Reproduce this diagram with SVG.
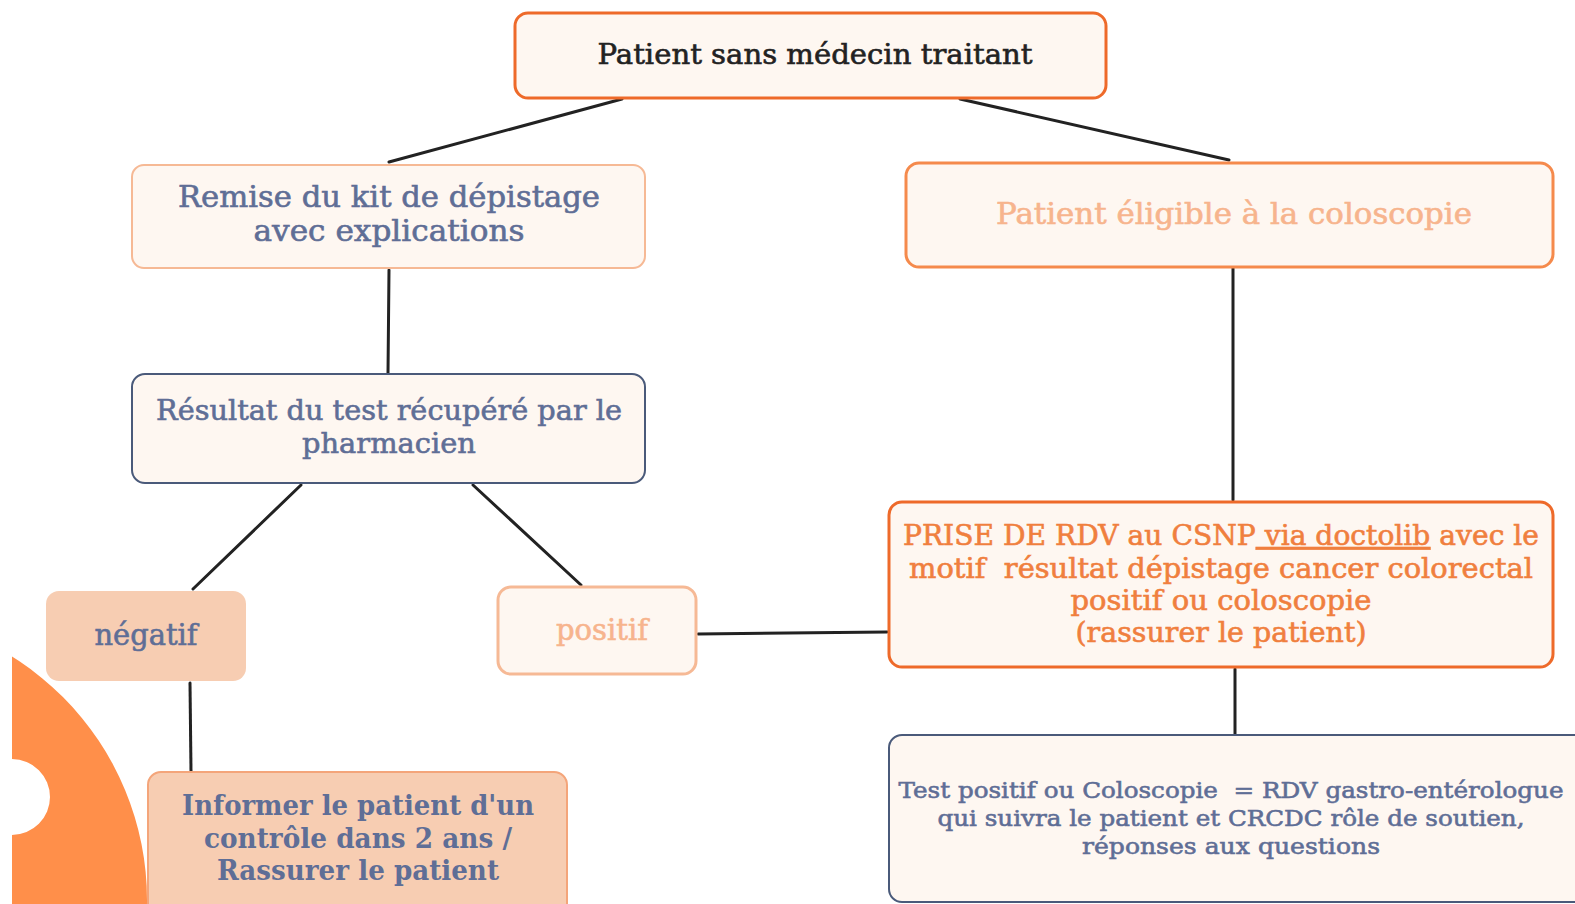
<svg xmlns="http://www.w3.org/2000/svg" width="1575" height="904" viewBox="0 0 1575 904">
<style>
.box{fill:#FEF7F1}
.t{font-family:"DejaVu Serif","Liberation Serif",serif;text-anchor:middle}
.med{stroke-width:0.6;paint-order:stroke}
.slate{fill:#5F6E96;stroke:#5F6E96}
.conn line{stroke:#222;stroke-width:3;stroke-linecap:round}
</style>
<defs>
<clipPath id="pg"><rect x="12" y="0" width="1563" height="904"/></clipPath>
</defs>
<rect width="1575" height="904" fill="#fff"/>
<g id="deco" clip-path="url(#pg)">
<path d="M-427,900 a287,287 0 1,0 574,0 a287,287 0 1,0 -574,0 Z M-26,797 a38,38 0 1,1 76,0 a38,38 0 1,1 -76,0 Z" fill="#FF8F4A" fill-rule="evenodd"/>
</g>
<g id="connectors" class="conn">
<line x1="622" y1="99" x2="389" y2="162"/>
<line x1="960" y1="99" x2="1229" y2="160"/>
<line x1="389" y1="270" x2="388" y2="373"/>
<line x1="1233" y1="268" x2="1233" y2="500"/>
<line x1="301" y1="485" x2="193" y2="589"/>
<line x1="473" y1="485" x2="581" y2="585"/>
<line x1="190" y1="683" x2="191" y2="771"/>
<line x1="698" y1="634" x2="887" y2="632"/>
<line x1="1235" y1="669" x2="1235" y2="734"/>
</g>
<g id="n-top">
<rect class="box" x="515" y="13" width="591" height="85" rx="13" stroke="#EE6A2A" stroke-width="3"/>
<text class="t med" x="815" y="64" font-size="28" fill="#222" stroke="#222" textLength="435" lengthAdjust="spacingAndGlyphs">Patient sans médecin traitant</text>
</g>
<g id="n-kit">
<rect class="box" x="132" y="165" width="513" height="103" rx="12" stroke="#F6B995" stroke-width="2"/>
<text class="t slate med" font-size="29"><tspan x="389" y="207" textLength="422" lengthAdjust="spacingAndGlyphs">Remise du kit de dépistage</tspan><tspan x="389" y="241" textLength="271" lengthAdjust="spacingAndGlyphs">avec explications</tspan></text>
</g>
<g id="n-eligible">
<rect class="box" x="906" y="163" width="647" height="104" rx="13" stroke="#F58A4C" stroke-width="3"/>
<text class="t med" x="1234" y="224" font-size="29" fill="#F7B48D" stroke="#F7B48D" textLength="476" lengthAdjust="spacingAndGlyphs">Patient éligible à la coloscopie</text>
</g>
<g id="n-resultat">
<rect class="box" x="132" y="374" width="513" height="109" rx="13" stroke="#4A5A7A" stroke-width="2"/>
<text class="t slate med" font-size="28"><tspan x="389" y="420" textLength="466" lengthAdjust="spacingAndGlyphs">Résultat du test récupéré par le</tspan><tspan x="389" y="453" textLength="174" lengthAdjust="spacingAndGlyphs">pharmacien</tspan></text>
</g>
<g id="n-negatif">
<rect x="46" y="591" width="200" height="90" rx="13" fill="#F7CDB2"/>
<text class="t slate med" x="146" y="645" font-size="29" stroke-width="0.9" textLength="103" lengthAdjust="spacingAndGlyphs">négatif</text>
</g>
<g id="n-positif">
<rect class="box" x="498" y="587" width="198" height="87" rx="13" stroke="#F6B995" stroke-width="3"/>
<text class="t med" x="602" y="640" font-size="29" fill="#F7B48D" stroke="#F7B48D" textLength="92" lengthAdjust="spacingAndGlyphs">positif</text>
</g>
<g id="n-rdv">
<rect class="box" x="889" y="502" width="664" height="165" rx="13" stroke="#EE6A2A" stroke-width="3"/>
<text class="t med" font-size="27" fill="#F07F3E" stroke="#F07F3E"><tspan x="1221" y="545" textLength="636" lengthAdjust="spacingAndGlyphs">PRISE DE RDV au CSNP<tspan text-decoration="underline"> via doctolib</tspan> avec le</tspan><tspan x="1221" y="578" xml:space="preserve" textLength="624" lengthAdjust="spacingAndGlyphs">motif  résultat dépistage cancer colorectal</tspan><tspan x="1221" y="610" textLength="301" lengthAdjust="spacingAndGlyphs">positif ou coloscopie</tspan><tspan x="1221" y="642" textLength="291" lengthAdjust="spacingAndGlyphs">(rassurer le patient)</tspan></text>
</g>
<g id="n-informer">
<rect x="148" y="772" width="419" height="150" rx="13" fill="#F7CDB2" stroke="#F4A57A" stroke-width="2"/>
<text class="t" font-size="27" font-weight="bold" fill="#5F6E96"><tspan x="358" y="815" textLength="352" lengthAdjust="spacingAndGlyphs">Informer le patient d'un</tspan><tspan x="358" y="848" textLength="308" lengthAdjust="spacingAndGlyphs">contrôle dans 2 ans /</tspan><tspan x="358" y="880" textLength="282" lengthAdjust="spacingAndGlyphs">Rassurer le patient</tspan></text>
</g>
<g id="n-gastro">
<rect class="box" x="889" y="735" width="700" height="167" rx="13" stroke="#4A5A7A" stroke-width="2"/>
<text class="t slate med" font-size="23" stroke-width="0.4"><tspan x="1231" y="798" xml:space="preserve" textLength="665" lengthAdjust="spacingAndGlyphs">Test positif ou Coloscopie  = RDV gastro-entérologue</tspan><tspan x="1231" y="826" textLength="587" lengthAdjust="spacingAndGlyphs">qui suivra le patient et CRCDC rôle de soutien,</tspan><tspan x="1231" y="854" textLength="298" lengthAdjust="spacingAndGlyphs">réponses aux questions</tspan></text>
</g>
</svg>
